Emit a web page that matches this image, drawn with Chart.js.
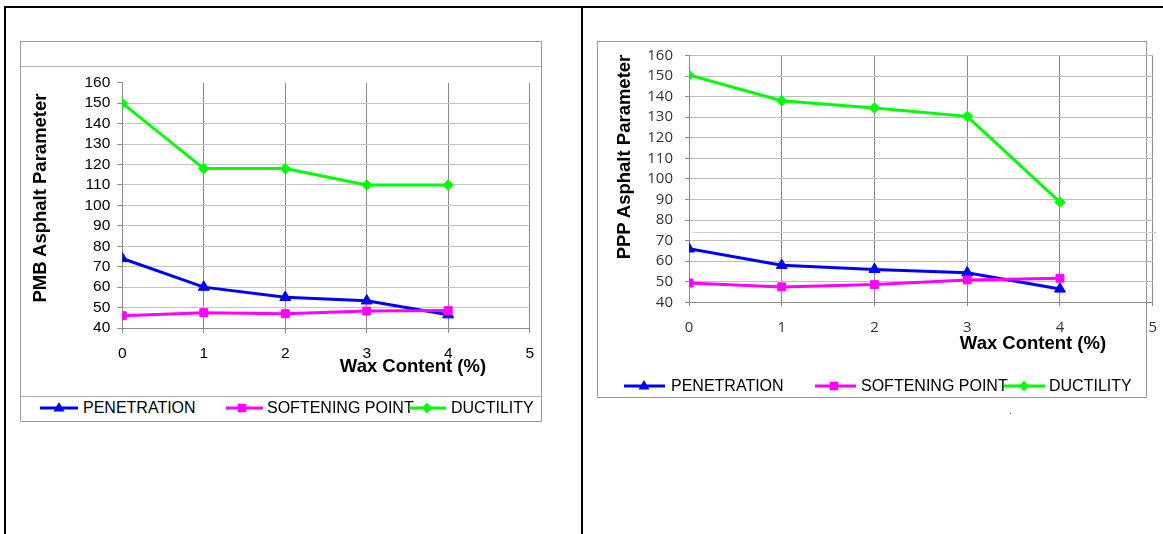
<!DOCTYPE html>
<html>
<head>
<meta charset="utf-8">
<script src="https://cdn.jsdelivr.net/npm/chart.js@4.4.1/dist/chart.umd.min.js"></script>
<style>
  html, body { margin: 0; padding: 0; background: #fff; }
  #page { position: relative; width: 1163px; height: 534px; overflow: hidden; background: #fff;
          font-family: "Liberation Sans", Arial, sans-serif; }
  .abs { position: absolute; }
  .box { position: absolute; border: 1px solid #9a9a9a; box-sizing: border-box; background: #fff; }
  .ytitle { position: absolute; transform: translate(-50%, -50%) rotate(-90deg); white-space: nowrap;
            font-weight: bold; font-size: 18.5px; color: #000; }
  .xtitle { position: absolute; transform: translate(-50%, -50%); white-space: nowrap;
            font-weight: bold; font-size: 18.5px; color: #000; }
  .legtext { position: absolute; transform: translateY(-50%); white-space: nowrap; font-size: 16px; color: #000; }
  canvas { position: absolute; }
</style>
</head>
<body>
<div id="page">
  <!-- outer table frame -->
  <div class="abs" style="left:4px; top:6px; width:1159px; height:2px; background:#000;"></div>
  <div class="abs" style="left:4px; top:6px; width:2px; height:528px; background:#000;"></div>
  <div class="abs" style="left:581px; top:6px; width:2px; height:528px; background:#000;"></div>

  <!-- left chart box -->
  <div class="box" style="left:20px; top:41px; width:522px; height:381px;"></div>
  <div class="abs" style="left:21px; top:66px; width:520px; height:1px; background:#b4b4b4;"></div>
  <div class="abs" style="left:21px; top:396px; width:520px; height:1px; background:#b4b4b4;"></div>

  <!-- right chart box -->
  <div class="box" style="left:597px; top:41px; width:550px; height:357px;"></div>

  <canvas id="c1" width="520" height="300" style="left:20px; top:70px;"></canvas>
  <canvas id="c2" width="560" height="300" style="left:600px; top:45px;"></canvas>

  <!-- stray line in the right chart -->
  <div class="abs" style="left:692px; top:232px; width:465px; height:1px; background:#cfcfcf;"></div>
  <div class="abs" style="left:1010px; top:413px; width:1px; height:1px; background:#666;"></div>

  <!-- titles -->
  <div class="ytitle" style="left:40px; top:198px;">PMB Asphalt Parameter</div>
  <div class="xtitle" style="left:413px; top:366px;">Wax Content (%)</div>
  <div class="ytitle" style="left:624px; top:157px;">PPP Asphalt Parameter</div>
  <div class="xtitle" style="left:1033px; top:343px;">Wax Content (%)</div>

  <!-- legends -->
  <div id="leg1"></div>
  <div id="leg2"></div>
</div>

<script>
// ---------------- data ----------------
const waxContent = [0, 1, 2, 3, 4];
const seriesNames = ['PENETRATION', 'SOFTENING POINT', 'DUCTILITY'];

const pmbPenetration = [74, 60, 55, 53.3, 46.5];
const pmbSoftening   = [46, 47.5, 47, 48.3, 48.5];
const pmbDuctility   = [150, 118, 118, 110, 110];

const pppPenetration = [66, 58, 56, 54.4, 46.5];
const pppSoftening   = [49.4, 47.5, 48.6, 50.9, 51.7];
const pppDuctility   = [150.5, 138, 134.5, 130.4, 88.7];

const xTickValues = [0, 1, 2, 3, 4, 5];
const yTickValues = [40, 50, 60, 70, 80, 90, 100, 110, 120, 130, 140, 150, 160];

// ---------------- styles ----------------
const seriesColors = ['#0000ff', '#ff00ff', '#00ff00'];
const seriesMarkers = ['triangle', 'rect', 'rectRot'];
const markerRadius = [6.3, 5.6, 5.2];

function toPoints(ys) { return waxContent.map((x, i) => ({ x: x, y: ys[i] })); }

function makeDatasets(valuesList) {
  return valuesList.map((vals, i) => ({
    label: seriesNames[i],
    data: toPoints(vals),
    borderColor: seriesColors[i],
    backgroundColor: seriesColors[i],
    pointBackgroundColor: seriesColors[i],
    pointBorderColor: seriesColors[i],
    pointBorderWidth: 1,
    pointStyle: seriesMarkers[i],
    pointRadius: markerRadius[i],
    borderWidth: 3,
    tension: 0,
    showLine: true,
    order: 3 - i
  }));
}

function makeChart(id, datasets, cfg) {
  return new Chart(document.getElementById(id), {
    type: 'scatter',
    data: { datasets: datasets },
    options: {
      responsive: false,
      animation: false,
      devicePixelRatio: 1,
      layout: { padding: cfg.padding },
      plugins: { legend: { display: false }, tooltip: { enabled: false } },
      scales: {
        x: {
          type: 'linear', min: 0, max: 5,
          afterBuildTicks: s => { s.ticks = xTickValues.map(v => ({ value: v })); },
          afterFit: s => { s.height = cfg.xAxisHeight; s.paddingLeft = 0; s.paddingRight = 0; },
          ticks: { font: cfg.tickFont, color: cfg.tickColor, padding: cfg.xPad, maxRotation: 0, autoSkip: false },
          grid: { color: '#8a8a8a', lineWidth: 1, tickLength: cfg.tickLen, tickColor: '#8a8a8a' },
          border: { color: '#8a8a8a', width: 1 }
        },
        y: {
          type: 'linear', min: 40, max: 160,
          afterBuildTicks: s => { s.ticks = yTickValues.map(v => ({ value: v })); },
          afterFit: s => { s.width = cfg.yAxisWidth; s.paddingTop = 0; s.paddingBottom = 0; },
          ticks: { font: cfg.tickFont, color: cfg.tickColor, padding: cfg.yPad, autoSkip: false },
          grid: {
            color: c => (c.tick && c.tick.value === 160 && !cfg.topGrid) ? 'rgba(0,0,0,0)' : cfg.hGridColor,
            lineWidth: 1, tickLength: cfg.tickLen, tickColor: '#8a8a8a'
          },
          border: { color: '#8a8a8a', width: 1 }
        }
      }
    }
  });
}

makeChart('c1', makeDatasets([pmbPenetration, pmbSoftening, pmbDuctility]), {
  padding: { left: 0, right: 10.3, top: 12.7, bottom: 0 },
  xAxisHeight: 42, yAxisWidth: 102.3,
  tickFont: { family: '"Liberation Sans", Arial, sans-serif', size: 15.5 },
  tickColor: '#000', xPad: 11.5, yPad: 7, tickLen: 5,
  hGridColor: '#c4c4c4', topGrid: false
});

makeChart('c2', makeDatasets([pppPenetration, pppSoftening, pppDuctility]), {
  padding: { left: 0, right: 7.3, top: 10.5, bottom: 0 },
  xAxisHeight: 42.7, yAxisWidth: 89,
  tickFont: { family: '"Open Sans", "DejaVu Sans", sans-serif', size: 15 },
  tickColor: '#333', xPad: 12.5, yPad: 12, tickLen: 4,
  hGridColor: '#bdbdbd', topGrid: true
});

// ---------------- legends (HTML) ----------------
function markerSvg(i) {
  const c = seriesColors[i];
  if (seriesMarkers[i] === 'triangle') return `<polygon points="0,-6 5.5,3.5 -5.5,3.5" fill="${c}"/>`;
  if (seriesMarkers[i] === 'rect') return `<rect x="-4.3" y="-4.3" width="8.6" height="8.6" fill="${c}"/>`;
  return `<polygon points="0,-5.3 5.3,0 0,5.3 -5.3,0" fill="${c}"/>`;
}
function buildLegend(hostId, y, items) {
  const host = document.getElementById(hostId);
  items.forEach((it, i) => {
    const w = it.lineEnd - it.lineStart;
    const svg = document.createElementNS('http://www.w3.org/2000/svg', 'svg');
    svg.setAttribute('width', w); svg.setAttribute('height', 14);
    svg.style.position = 'absolute';
    svg.style.left = it.lineStart + 'px';
    svg.style.top = (y - 7) + 'px';
    svg.innerHTML = `<line x1="0" y1="7" x2="${w}" y2="7" stroke="${seriesColors[i]}" stroke-width="3"/>` +
      `<g transform="translate(${it.marker - it.lineStart},7)">${markerSvg(i)}</g>`;
    host.appendChild(svg);
    const t = document.createElement('div');
    t.className = 'legtext';
    t.style.left = it.text + 'px';
    t.style.top = y + 'px';
    t.textContent = seriesNames[i];
    host.appendChild(t);
  });
}
buildLegend('leg1', 408, [
  { lineStart: 40, lineEnd: 78, marker: 59, text: 83 },
  { lineStart: 226, lineEnd: 263, marker: 242, text: 267 },
  { lineStart: 409, lineEnd: 446, marker: 427, text: 451 }
]);
buildLegend('leg2', 386, [
  { lineStart: 624, lineEnd: 665, marker: 644, text: 671 },
  { lineStart: 815, lineEnd: 856, marker: 834, text: 861 },
  { lineStart: 1004, lineEnd: 1045, marker: 1024, text: 1049 }
]);
</script>
</body>
</html>
